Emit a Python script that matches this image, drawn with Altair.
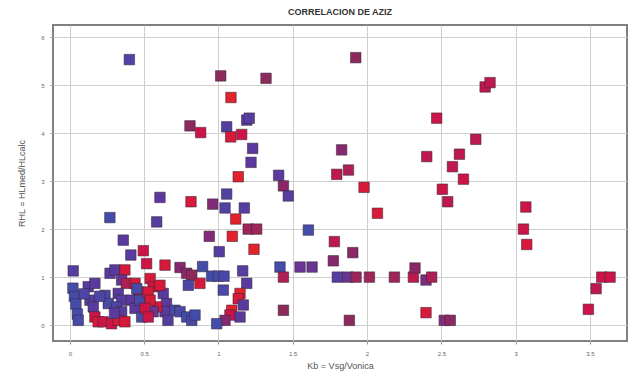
import altair as alt
import pandas as pd

# Kb = Vsg/Vonica (x), RHL = HLmed/HLcalc (y), colour tone 0=blue .. 1=red
kb = [1.924, 2.795, 2.828, 2.469, 2.732, 1.829, 2.402, 2.622, 1.796, 1.875,
      2.575, 2.649, 1.98, 2.507, 2.543, 2.07, 3.069, 3.053, 3.075, 1.605,
      1.78, 1.904, 1.773, 1.549, 1.63, 1.80, 1.87, 1.926, 2.016, 2.184,
      2.312, 2.323, 2.397, 2.435, 2.397, 1.881, 2.52, 2.56, 3.58, 3.636,
      3.542, 3.49, 1.437, 1.414, 1.437,
      0.40, 1.015, 1.32, 1.084, 1.19, 1.207, 0.808, 0.88, 1.055, 1.082,
      1.156, 1.23, 1.219, 1.133, 1.405, 1.437, 1.47, 1.055, 0.815, 0.961,
      1.044, 1.174, 1.116, 1.20, 1.257, 0.938, 1.093, 1.239, 1.005, 0.606,
      0.269, 0.584, 0.359, 0.41, 0.494,
      0.516, 0.64, 0.741, 0.786, 0.82, 0.797, 0.875, 0.893, 0.954, 0.999,
      1.037, 1.163, 1.032, 1.19, 1.145, 1.133, 1.167, 1.089, 1.077, 1.145,
      1.044, 0.988, 0.628, 0.65, 0.64, 0.707, 0.741, 0.786, 0.82, 0.842,
      0.54, 0.56, 0.606, 0.584, 0.56, 0.022, 0.02, 0.03, 0.04, 0.05,
      0.056, 0.123, 0.168, 0.135, 0.157, 0.168, 0.19, 0.236, 0.258, 0.224,
      0.28, 0.27, 0.303, 0.37, 0.348, 0.38, 0.325, 0.348, 0.314, 0.348,
      0.325, 0.37, 0.438, 0.46, 0.415, 0.438, 0.47, 0.483, 0.527, 0.54,
      0.505, 0.527, 0.45, 0.20, 0.095, 0.66, 0.30]
rhl = [5.57, 4.96, 5.05, 4.31, 3.87, 3.65, 3.51, 3.56, 3.14, 3.23,
       3.30, 3.04, 2.87, 2.83, 2.57, 2.33, 2.46, 2.0, 1.68, 1.98,
       1.74, 1.51, 1.34, 1.21, 1.21, 1.0, 1.0, 1.0, 1.0, 1.0,
       1.0, 1.19, 0.94, 1.0, 0.26, 0.10, 0.10, 0.10, 1.0, 1.0,
       0.76, 0.33, 0.31, 1.21, 1.0,
       5.53, 5.19, 5.14, 4.74, 4.27, 4.31, 4.15, 4.01, 4.13, 3.92,
       3.97, 3.68, 3.39, 3.09, 3.12, 2.90, 2.69, 2.73, 2.57, 2.52,
       2.44, 2.44, 2.21, 2.0, 2.0, 1.85, 1.85, 1.58, 1.53, 2.66,
       2.24, 2.15, 1.77, 1.46, 1.55,
       1.28, 1.25, 1.20, 1.08, 1.04, 0.83, 0.87, 1.22, 1.02, 1.02,
       1.02, 1.13, 0.73, 0.87, 0.66, 0.55, 0.42, 0.31, 0.21, 0.17,
       0.10, 0.03, 0.66, 0.45, 0.28, 0.31, 0.28, 0.17, 0.10, 0.21,
       0.97, 0.80, 0.83, 0.38, 0.28, 1.13, 0.77, 0.60, 0.44, 0.23,
       0.10, 0.80, 0.87, 0.52, 0.38, 0.17, 0.07, 0.62, 0.45, 0.07,
       0.03, 1.08, 1.15, 1.15, 0.94, 0.87, 0.66, 0.52, 0.38, 0.28,
       0.10, 0.07, 0.87, 0.69, 0.52, 0.35, 0.52, 0.17, 0.69, 0.52,
       0.35, 0.17, 0.76, 0.60, 0.65, 0.10, 0.25]
tone = [0.7, 0.85, 0.85, 0.9, 0.85, 0.6, 0.85, 0.85, 0.85, 0.8,
        0.85, 0.9, 0.95, 0.9, 0.85, 0.95, 0.9, 0.9, 0.95, 0.1,
        0.85, 0.65, 0.6, 0.4, 0.4, 0.3, 0.4, 0.75, 0.75, 0.75,
        0.85, 0.65, 0.5, 0.8, 0.95, 0.7, 0.55, 0.65, 0.9, 0.9,
        0.85, 0.9, 0.7, 0.1, 0.8,
        0.25, 0.7, 0.7, 1.0, 0.35, 0.3, 0.7, 0.9, 0.3, 0.95,
        0.9, 0.35, 0.35, 1.0, 0.35, 0.65, 0.3, 0.25, 0.95, 0.55,
        0.25, 0.3, 1.0, 0.75, 0.75, 0.55, 1.0, 1.0, 0.3, 0.35,
        0.1, 0.3, 0.35, 0.35, 0.9,
        0.9, 0.95, 0.6, 0.65, 0.7, 0.2, 0.95, 0.1, 0.1, 0.1,
        0.15, 0.3, 0.15, 0.35, 1.0, 0.95, 0.35, 1.0, 0.9, 0.35,
        0.6, 0.1, 0.35, 0.35, 0.35, 0.1, 0.15, 0.1, 0.15, 0.1,
        0.95, 0.9, 0.95, 0.95, 0.4, 0.3, 0.1, 0.1, 0.1, 0.1,
        0.15, 0.35, 0.35, 0.3, 0.35, 0.9, 0.95, 0.15, 0.15, 0.9,
        0.9, 0.35, 0.35, 0.95, 0.4, 0.8, 0.35, 0.3, 0.2, 0.3,
        0.95, 0.95, 0.95, 0.9, 0.35, 0.35, 0.15, 0.15, 0.95, 0.95,
        0.9, 0.9, 0.15, 0.2, 0.2, 0.3, 0.35]

x_ticks = [0, 0.5, 1, 1.5, 2, 2.5, 3, 3.5]
y_ticks = [0, 1, 2, 3, 4, 5, 6]

df = pd.DataFrame({"kb": kb, "rhl": rhl, "tone": tone})

chart = alt.Chart(df).mark_square(
    size=110, opacity=1, filled=True, stroke="#3a2a3a", strokeWidth=0.8, strokeOpacity=0.7
).encode(
    x=alt.X("kb:Q", title="Kb = Vsg/Vonica",
            scale=alt.Scale(domain=[-0.114, 3.75], nice=False, zero=False),
            axis=alt.Axis(values=x_ticks, labelExpr="datum.value")),
    y=alt.Y("rhl:Q", title="RHL = HLmed/HLcalc",
            scale=alt.Scale(domain=[-0.33, 6.25], nice=False, zero=False),
            axis=alt.Axis(values=y_ticks)),
    color=alt.Color("tone:Q", legend=None,
                    scale=alt.Scale(domain=[0, 0.35, 0.7, 1],
                                    range=["#3a52ad", "#5a3a9e", "#8c2a5c", "#e2232b"])),
).properties(
    width=574, height=316,
    title=alt.TitleParams("CORRELACION DE AZIZ", fontSize=9, fontWeight="bold",
                          font="Liberation Sans", color="#333", offset=8, anchor="middle"),
    padding={"left": 53, "top": 25, "right": 5, "bottom": 33},
    autosize=alt.AutoSizeParams(type="none"),
).configure_view(
    stroke="#808080", strokeWidth=2
).configure_axis(
    domain=False, grid=True, gridColor="#cfcfcf", gridWidth=1,
    tickColor="#999", tickSize=3, labelFontSize=6, labelColor="#666",
    labelFont="Liberation Sans", titleFont="Liberation Sans",
    titleFontSize=9, titleFontWeight="normal", titleColor="#555", labelPadding=6
).configure_axisX(titlePadding=5).configure_axisY(titlePadding=14)

chart.save("out.html", embed_options={"renderer": "svg", "actions": False})
